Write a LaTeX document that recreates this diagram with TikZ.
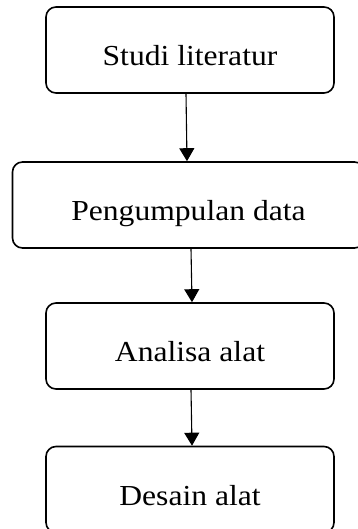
\documentclass[tikz,border=0pt]{standalone}
\usepackage{fontspec}
\setmainfont[FakeStretch=1.09]{Liberation Serif}
\usepackage{tikz}
\usetikzlibrary{arrows.meta}

\tikzset{
    tahap/.style={draw, line width=1.6pt, rounded corners=10pt, minimum width=288pt,
        minimum height=86pt, inner sep=0pt, text height=31pt, text depth=0pt,
        font=\fontsize{29}{32}\selectfont},
    panah/.style={->, line width=1.1pt}
}

\begin{document}
\begin{tikzpicture}[>={Triangle[width=15pt,length=13pt]}, x=1pt, y=-1pt]
    % Batas gambar
    \useasboundingbox (0,0) rectangle (358,529);

    % Tahapan
    \node[tahap] (studi) at (190,50) {Studi literatur};
    \node[tahap, minimum width=352pt] (kumpul) at (188.5,205) {Pengumpulan data};
    \node[tahap] (analisa) at (190,346) {Analisa alat};
    \node[tahap] (desain) at (190,489.5) {Desain alat};

    % Alur
    \draw[panah] ([xshift=-4pt]studi.south) -- ([xshift=-1.5pt]kumpul.north);
    \draw[panah] ([xshift=2.5pt]kumpul.south) -- ([xshift=2pt]analisa.north);
    \draw[panah] ([xshift=1pt]analisa.south) -- ([xshift=2pt]desain.north);
\end{tikzpicture}
\end{document}
